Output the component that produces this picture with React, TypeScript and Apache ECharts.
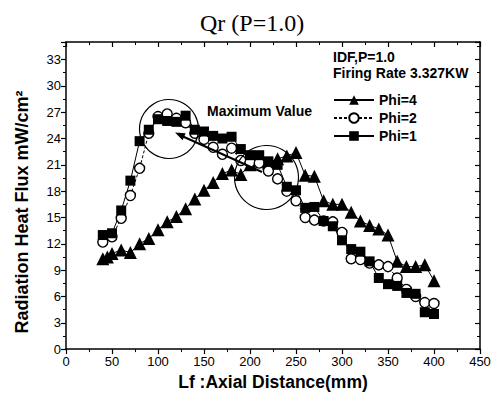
import React, { useEffect, useRef } from "react";
import * as echarts from "echarts";

const xPhi4 = [40, 45, 50, 60, 70, 80, 90, 100, 110, 120, 130, 140, 150, 160, 170, 180, 190, 200, 210, 220, 230, 240, 250, 260, 270, 280, 290, 300, 310, 320, 330, 340, 350, 360, 370, 380, 390, 400];
const yPhi4 = [10.3, 10.5, 10.9, 11.3, 11.0, 12.0, 12.6, 13.6, 14.5, 15.1, 16.0, 17.1, 18.1, 19.0, 20.0, 20.4, 19.9, 21.0, 21.4, 21.2, 21.7, 22.0, 22.4, 19.8, 19.7, 16.9, 16.5, 16.5, 15.6, 14.6, 14.1, 13.7, 13.0, 10.0, 9.4, 9.4, 9.6, 7.8];

const xPhi2 = [40, 50, 60, 70, 80, 90, 100, 110, 120, 130, 140, 150, 160, 170, 180, 190, 200, 210, 220, 230, 240, 250, 260, 270, 280, 290, 300, 310, 320, 330, 340, 350, 360, 370, 380, 390, 400];
const yPhi2 = [12.2, 12.8, 14.9, 17.5, 20.6, 24.6, 26.5, 26.8, 26.3, 25.8, 24.6, 23.9, 23.0, 22.2, 22.9, 21.5, 21.3, 21.2, 20.3, 19.4, 18.0, 16.9, 15.0, 14.7, 14.6, 14.5, 13.3, 10.3, 10.2, 9.8, 9.6, 9.4, 8.1, 6.8, 6.0, 5.3, 5.2];

const xPhi1 = [40, 50, 60, 70, 80, 90, 100, 110, 120, 130, 140, 150, 160, 170, 180, 190, 200, 210, 220, 230, 240, 250, 260, 270, 280, 290, 300, 310, 320, 330, 340, 350, 360, 370, 380, 390, 400];
const yPhi1 = [13.0, 13.2, 15.8, 19.2, 23.7, 25.0, 26.2, 26.0, 25.9, 26.6, 25.0, 24.8, 24.3, 24.0, 24.2, 22.8, 22.1, 22.1, 21.4, 21.0, 18.5, 18.1, 16.1, 16.2, 14.6, 14.0, 12.4, 11.4, 11.1, 10.0, 8.1, 7.4, 7.2, 6.4, 6.3, 4.2, 4.0];

const seriesNames = ["Phi=4", "Phi=2", "Phi=1"];

const pairs = (xs: number[], ys: number[]) => xs.map((x, i) => [x, ys[i]]);

const SANS = "Liberation Sans, Arial, sans-serif";

export default function App() {
  const ref = useRef<HTMLDivElement>(null);
  useEffect(() => {
    if (!ref.current) return;
    const chart = echarts.init(ref.current, null, { renderer: "svg" });
    const axisLine = { show: true, onZero: false, lineStyle: { color: "#000", width: 1.5 } };
    const tick = (inside: boolean) => ({ show: true, inside, length: 5, lineStyle: { color: "#000", width: 1.2 } });
    const minor = { show: true, splitNumber: 2, length: 3, lineStyle: { color: "#000", width: 1 } };
    const xCommon = {
      type: "value" as const,
      min: 0,
      max: 450,
      interval: 50,
      axisLine,
      minorTick: minor,
      splitLine: { show: false },
      minorSplitLine: { show: false },
    };
    const yCommon = {
      type: "value" as const,
      min: 0,
      max: 35,
      interval: 3,
      axisLine,
      minorTick: minor,
      splitLine: { show: false },
      minorSplitLine: { show: false },
    };
    chart.setOption({
      animation: false,
      backgroundColor: "#fff",
      title: {
        text: "Qr (P=1.0)",
        left: 195,
        top: 6,
        textStyle: { fontFamily: "Liberation Serif, Times New Roman, serif", fontSize: 24, fontWeight: "normal", color: "#000" },
      },
      grid: { left: 66, right: 19, top: 42, bottom: 42, containLabel: false },
      xAxis: [
        {
          ...xCommon,
          position: "bottom",
          name: "Lf :Axial Distance(mm)",
          nameLocation: "middle",
          nameGap: 19,
          nameTextStyle: { fontFamily: SANS, fontSize: 17.5, fontWeight: "bold", color: "#000" },
          axisTick: tick(false),
          axisLabel: { fontFamily: SANS, fontSize: 13, color: "#000", margin: 6 },
        },
        {
          ...xCommon,
          position: "top",
          axisTick: tick(true),
          axisLabel: { show: false },
        },
      ],
      yAxis: [
        {
          ...yCommon,
          position: "left",
          axisTick: tick(false),
          axisLabel: { fontFamily: SANS, fontSize: 13, color: "#000", margin: 5, showMaxLabel: false },
        },
        {
          ...yCommon,
          position: "right",
          axisTick: tick(true),
          axisLabel: { show: false },
        },
      ],
      legend: {
        data: seriesNames,
        orient: "vertical",
        left: 328,
        top: 88,
        itemGap: 4,
        itemWidth: 40,
        itemHeight: 12,
        textStyle: { fontFamily: SANS, fontSize: 14, fontWeight: "bold", color: "#000" },
      },
      series: [
        {
          name: seriesNames[0],
          type: "line",
          data: pairs(xPhi4, yPhi4),
          symbol: "triangle",
          symbolSize: 13,
          lineStyle: { color: "#000", width: 1 },
          itemStyle: { color: "#000" },
        },
        {
          name: seriesNames[1],
          type: "line",
          data: pairs(xPhi2, yPhi2),
          symbol: "circle",
          symbolSize: 10,
          lineStyle: { color: "#000", width: 1, type: [3, 2] },
          itemStyle: { color: "#fff", borderColor: "#000", borderWidth: 1.4 },
        },
        {
          name: seriesNames[2],
          type: "line",
          data: pairs(xPhi1, yPhi1),
          symbol: "rect",
          symbolSize: 10,
          lineStyle: { color: "#000", width: 1 },
          itemStyle: { color: "#000" },
        },
      ],
      graphic: [
        {
          type: "text",
          x: 22,
          y: 212,
          rotation: Math.PI / 2,
          style: { text: "Radiation Heat Flux mW/cm²", fontFamily: SANS, fontSize: 18, fontWeight: "bold", fill: "#000", align: "center", verticalAlign: "middle" },
        },
        { type: "text", left: 333, top: 50, style: { text: "IDF,P=1.0", fontFamily: SANS, fontSize: 14, fontWeight: "bold", fill: "#000" } },
        { type: "text", left: 333, top: 66, style: { text: "Firing Rate 3.327KW", fontFamily: SANS, fontSize: 14, fontWeight: "bold", fill: "#000" } },
        { type: "text", left: 207, top: 104, style: { text: "Maximum Value", fontFamily: SANS, fontSize: 14, fontWeight: "bold", fill: "#000" } },
        { type: "circle", shape: { cx: 169, cy: 129, r: 29.5 }, style: { fill: "none", stroke: "#000", lineWidth: 1.2 }, z: 100 },
        { type: "circle", shape: { cx: 266.5, cy: 177.5, r: 32 }, style: { fill: "none", stroke: "#000", lineWidth: 1.2 }, z: 100 },
        { type: "line", shape: { x1: 183, y1: 136.5, x2: 262, y2: 172 }, style: { stroke: "#000", lineWidth: 2 }, z: 100 },
        { type: "polygon", shape: { points: [[175, 132.5], [185.6, 133.3], [182.6, 140.2]] }, style: { fill: "#000" }, z: 100 },
      ],
    });
    return () => chart.dispose();
  }, []);
  return <div ref={ref} style={{ width: 499, height: 396, position: "absolute", left: 0, top: 0 }} />;
}
